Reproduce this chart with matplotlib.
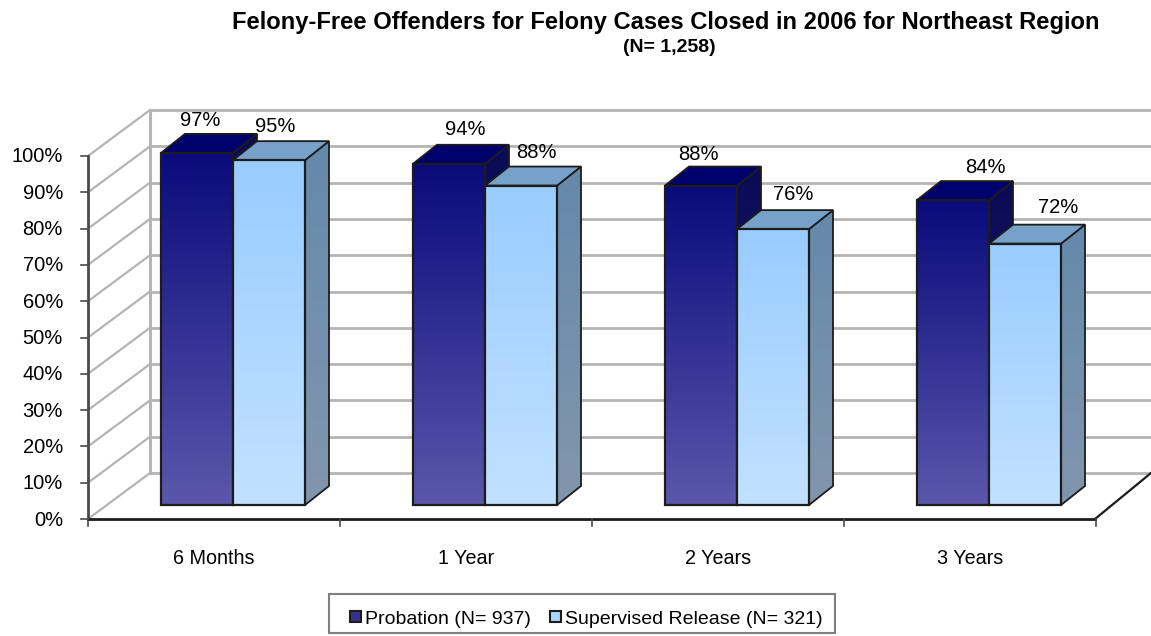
"""Felony-free offenders chart, drawn as a fake 3D column chart on pixel-sized axes."""

import matplotlib

matplotlib.use("Agg")

import matplotlib.pyplot as plt
import numpy as np
from matplotlib.patches import Polygon, Rectangle

plt.rcParams["font.family"] = ["Liberation Sans", "DejaVu Sans"]

categories = ["6 Months", "1 Year", "2 Years", "3 Years"]
probation = [97, 94, 88, 84]
supervised = [95, 88, 76, 72]
y_ticks = [0, 10, 20, 30, 40, 50, 60, 70, 80, 90, 100]
legend_labels = ["Probation (N= 937)", "Supervised Release (N= 321)"]
title_text = "Felony-Free Offenders for Felony Cases Closed in 2006 for Northeast Region"
subtitle_text = "(N= 1,258)"

# Layout, in picture pixels
width, height = 1151, 636
axis_x, axis_y = 88, 519
px_per_pct = 3.63
group_step = 252
wall_dx, wall_dy = 62, -46
bar_base = 505
bar_left = 73
bar_width = 72
bar_dx, bar_dy = 24, -19

# The labels were hand placed in the source chart, they do not sit over the bars
label_nudge_probation = [3, 16, -3, 32]
label_nudge_supervised = [6, 15, 20, 33]
label_lift_probation = [32, 34, 31, 33]
label_lift_supervised = [34, 33, 35, 36]

grid_color = "#b4b4b4"
line_color = "#1c1c1c"


def front_y(pct):
    return axis_y - pct * px_per_pct


def bar_top(pct):
    return bar_base - pct * px_per_pct


def gradient_box(ax, x0, x1, y0, y1, top_color, bottom_color):
    c0 = np.array(matplotlib.colors.to_rgb(top_color))
    c1 = np.array(matplotlib.colors.to_rgb(bottom_color))
    steps = np.linspace(0, 1, 128)[:, None, None]
    img = c0[None, None, :] * (1 - steps) + c1[None, None, :] * steps
    return ax.imshow(img, extent=(x0, x1, y1, y0), aspect="auto", interpolation="bilinear", zorder=3)


def draw_bar(ax, x0, pct, colors, order):
    x1 = x0 + bar_width
    top = bar_top(pct)
    side = [(x1, top), (x1 + bar_dx, top + bar_dy), (x1 + bar_dx, bar_base + bar_dy), (x1, bar_base)]
    roof = [(x0, top), (x0 + bar_dx, top + bar_dy), (x1 + bar_dx, top + bar_dy), (x1, top)]

    im = gradient_box(ax, x1, x1 + bar_dx, top + bar_dy, bar_base, colors["side_top"], colors["side_bottom"])
    im.set_zorder(order)
    clip = Polygon(side, transform=ax.transData, facecolor="none", edgecolor="none")
    ax.add_patch(clip)
    im.set_clip_path(clip)
    ax.add_patch(Polygon(side, closed=True, facecolor="none", edgecolor=line_color, linewidth=1.3, zorder=order + 0.1))

    ax.add_patch(Polygon(roof, closed=True, facecolor=colors["roof"], edgecolor=line_color, linewidth=1.3, zorder=order + 0.2))

    im = gradient_box(ax, x0, x1, top, bar_base, colors["front_top"], colors["front_bottom"])
    im.set_zorder(order + 0.3)
    ax.add_patch(Rectangle((x0, top), bar_width, bar_base - top, facecolor="none", edgecolor=line_color, linewidth=1.6, zorder=order + 0.4))


probation_colors = {
    "front_top": "#0a0a7c",
    "front_bottom": "#5a57ab",
    "side_top": "#0a0a56",
    "side_bottom": "#20206a",
    "roof": "#00006c",
}
supervised_colors = {
    "front_top": "#99ccff",
    "front_bottom": "#c2e1ff",
    "side_top": "#6489ab",
    "side_bottom": "#8296ad",
    "roof": "#76a1c9",
}

fig = plt.figure(figsize=(width / 100, height / 100), dpi=100)
ax = fig.add_axes([0, 0, 1, 1])
ax.axis("off")

# Back wall and side wall gridlines
right_end = axis_x + group_step * len(categories)
for pct in y_ticks:
    y = front_y(pct)
    ax.plot([axis_x, axis_x + wall_dx], [y, y + wall_dy], color=grid_color, linewidth=1.6, zorder=1)
    ax.plot([axis_x + wall_dx, width], [y + wall_dy, y + wall_dy], color=grid_color, linewidth=2, zorder=1)
ax.plot([axis_x + wall_dx, axis_x + wall_dx], [front_y(0) + wall_dy, front_y(100) + wall_dy], color=grid_color, linewidth=2.2, zorder=1)

# Front axes
ax.plot([axis_x, axis_x], [front_y(0), front_y(100)], color="#4a4a4a", linewidth=2, zorder=2)
ax.plot([axis_x, right_end - 1], [front_y(0), front_y(0)], color=line_color, linewidth=2, zorder=2)
ax.plot([right_end - 1, width], [front_y(0), front_y(0) + wall_dy], color=line_color, linewidth=1.6, zorder=2)

for pct in y_ticks:
    y = front_y(pct)
    ax.plot([axis_x - 7, axis_x], [y, y], color="#4a4a4a", linewidth=1.2, zorder=2)
    ax.text(63, y + 1, f"{pct}%", ha="right", va="center", fontsize=14.5, color="black")

for i in range(len(categories) + 1):
    x = axis_x + group_step * i
    ax.plot([x, x], [front_y(0), front_y(0) + 7], color="#4a4a4a", linewidth=1.2, zorder=2)

# Bars, left to right so that the nearer faces cover the older ones
for i, name in enumerate(categories):
    x0 = axis_x + group_step * i + bar_left
    draw_bar(ax, x0, probation[i], probation_colors, 3 + i)
    draw_bar(ax, x0 + bar_width, supervised[i], supervised_colors, 3.5 + i)
    ax.text(axis_x + group_step * (i + 0.5), 558, name, ha="center", va="center", fontsize=14.2, color="black")
    ax.text(x0 + bar_width / 2 + label_nudge_probation[i], bar_top(probation[i]) - label_lift_probation[i], f"{probation[i]}%",
            ha="center", va="center", fontsize=14.5, color="black", zorder=20)
    ax.text(x0 + bar_width * 1.5 + label_nudge_supervised[i], bar_top(supervised[i]) - label_lift_supervised[i], f"{supervised[i]}%",
            ha="center", va="center", fontsize=14.5, color="black", zorder=20)

# Titles
ax.text(666, 22, title_text, ha="center", va="center", fontsize=17.1, fontweight="bold", color="black")
ax.text(669, 48, subtitle_text, ha="center", va="center", fontsize=14, fontweight="bold", color="black")

# Legend box
ax.add_patch(Rectangle((329, 594), 506, 39, facecolor="white", edgecolor="#7f7f7f", linewidth=1.5, zorder=10))
ax.add_patch(Rectangle((350, 611), 11, 11, facecolor="#33338f", edgecolor=line_color, linewidth=1.5, zorder=11))
ax.add_patch(Rectangle((550, 611), 11, 11, facecolor="#a8d4ff", edgecolor=line_color, linewidth=1.5, zorder=11))
ax.text(365, 619, legend_labels[0], ha="left", va="center", fontsize=14, color="black", zorder=11)
ax.text(565, 619, legend_labels[1], ha="left", va="center", fontsize=14, color="black", zorder=11)

ax.set_xlim(0, width)
ax.set_ylim(height, 0)

fig.savefig("out.png", dpi=100, facecolor="white")
plt.close(fig)
